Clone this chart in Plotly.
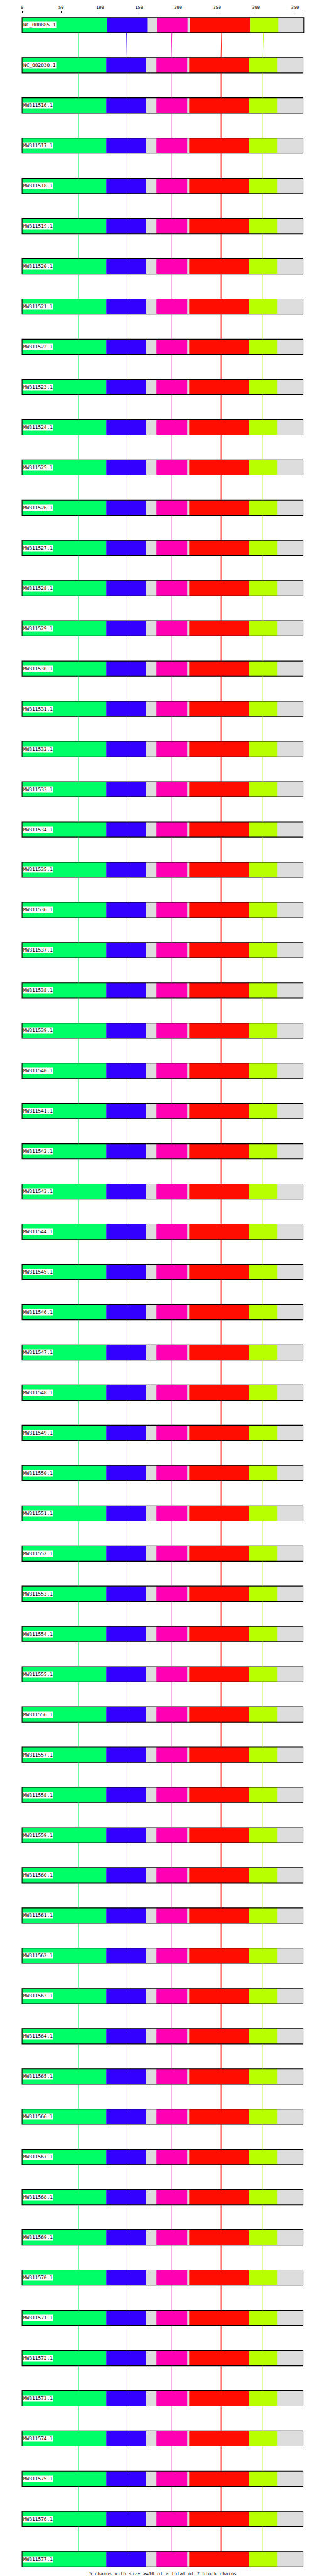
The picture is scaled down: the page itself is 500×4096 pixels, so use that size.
import plotly.graph_objects as go

# ---------------- data ----------------
seq_names = ["NC_000885.1", "NC_002030.1"] + ["MW3115%02d.1" % n for n in range(16, 78)]
n_rows = len(seq_names)

# sequence lengths
seq_lengths = [361.2] + [360.2] * 63

# block chains: start / end per sequence
green_start = [0.0] + [0.0] * 63
green_end = [109.2] + [108.0] * 63
blue_start = [109.2] + [108.0] * 63
blue_end = [160.5] + [159.3] * 63
magenta_start = [173.0] + [172.4] * 63
magenta_end = [212.2] + [211.8] * 63
red_start = [215.6] + [214.3] * 63
red_end = [292.3] + [290.6] * 63
yellow_start = [292.3] + [290.6] * 63
yellow_end = [328.6] + [326.9] * 63

# anchor positions of connector lines between consecutive sequences
green_anchor = [72.5] + [72.5] * 63
blue_anchor = [133.9] + [133.2] * 63
magenta_anchor = [192.1] + [191.4] * 63
red_anchor = [255.9] + [255.2] * 63
yellow_anchor = [309.7] + [308.3] * 63

axis_ticks = [0, 50, 100, 150, 200, 250, 300, 350]
caption = "5 chains with size >=10 of a total of 7 block chains"

# ---------------- styling ----------------
S = 0.78
W, H = 500, 4096
C_GREEN = "#00ff66"
C_BLUE = "#3300ff"
C_MAGENTA = "#ff00b3"
C_RED = "#ff0d00"
C_YELLOW = "#b8ff00"
C_GRAY = "#dddddd"

px_per_unit = 1.599 * S
x0_px = 32.3 * S
xmin = -x0_px / px_per_unit
xmax = xmin + W / px_per_unit

row_pitch = 82 * S
row0_center = 40.8 * S
ymin = -row0_center / row_pitch
ymax = ymin + H / row_pitch
bar_w = 31 / 82.0
half = bar_w / 2

rows = list(range(n_rows))
fig = go.Figure()

# gray background of each sequence
fig.add_trace(go.Bar(orientation="h", y=rows, x=seq_lengths, base=[0] * n_rows,
                     width=bar_w, marker=dict(color=C_GRAY, line=dict(width=0)),
                     hoverinfo="skip", showlegend=False))

blocks = [
    (green_start, green_end, C_GREEN),
    (blue_start, blue_end, C_BLUE),
    (magenta_start, magenta_end, C_MAGENTA),
    (red_start, red_end, C_RED),
    (yellow_start, yellow_end, C_YELLOW),
]
for st, en, col in blocks:
    fig.add_trace(go.Bar(orientation="h", y=rows, x=[e - s for s, e in zip(st, en)], base=st,
                         width=bar_w, marker=dict(color=col, line=dict(width=0)),
                         hoverinfo="skip", showlegend=False))

# black outline of each sequence
fig.add_trace(go.Bar(orientation="h", y=rows, x=seq_lengths, base=[0] * n_rows,
                     width=bar_w, marker=dict(color="rgba(0,0,0,0)", line=dict(color="black", width=1.1)),
                     hoverinfo="skip", showlegend=False))

# connector lines
for anchors, col in [(green_anchor, C_GREEN), (blue_anchor, C_BLUE), (magenta_anchor, C_MAGENTA),
                     (red_anchor, C_RED), (yellow_anchor, C_YELLOW)]:
    xs, ys = [], []
    for i in range(n_rows - 1):
        xs += [anchors[i], anchors[i + 1], None]
        ys += [i + half, i + 1 - half, None]
    fig.add_trace(go.Scatter(x=xs, y=ys, mode="lines", line=dict(color=col, width=0.9),
                             hoverinfo="skip", showlegend=False))

# dummy trace for top ruler axis
fig.add_trace(go.Scatter(x=[0, max(seq_lengths)], y=[0, 0], xaxis="x2", yaxis="y",
                         mode="markers", marker=dict(opacity=0), hoverinfo="skip", showlegend=False))

# sequence labels
annotations = []
for i, name in enumerate(seq_names):
    annotations.append(dict(x=0, y=i, xref="x", yref="y", text=name, showarrow=False,
                            xanchor="left", yanchor="middle", xshift=0.8,
                            bgcolor="white", borderpad=0,
                            font=dict(family="DejaVu Sans Mono", size=7.8, color="black")))
annotations.append(dict(x=0.5, y=1 - 4084 / H, xref="paper", yref="paper", text=caption,
                        showarrow=False, xanchor="center", yanchor="middle",
                        font=dict(family="DejaVu Sans Mono", size=7.5, color="black")))

ruler_len = 360.2
d0 = x0_px / W
d1 = (x0_px + ruler_len * px_per_unit) / W

fig.update_layout(
    width=W, height=H, autosize=False,
    margin=dict(l=0, r=0, t=0, b=0),
    paper_bgcolor="white", plot_bgcolor="rgba(0,0,0,0)",
    barmode="overlay",
    xaxis=dict(range=[xmin, xmax], domain=[0, 1], visible=False, fixedrange=True),
    yaxis=dict(range=[ymax, ymin], domain=[0, 1], visible=False, fixedrange=True),
    xaxis2=dict(range=[0, ruler_len], domain=[d0, d1], anchor="free", position=1 - 11.7 / H,
                side="top", showline=True, linecolor="black", linewidth=1,
                ticks="outside", ticklen=3, tickwidth=1, tickcolor="black",
                tickvals=axis_ticks + [ruler_len], ticktext=[str(t) for t in axis_ticks] + [""],
                showgrid=False, zeroline=False,
                tickfont=dict(family="DejaVu Sans Mono", size=7, color="black"),
                fixedrange=True),
    annotations=annotations,
)

fig.write_html("out.html")
